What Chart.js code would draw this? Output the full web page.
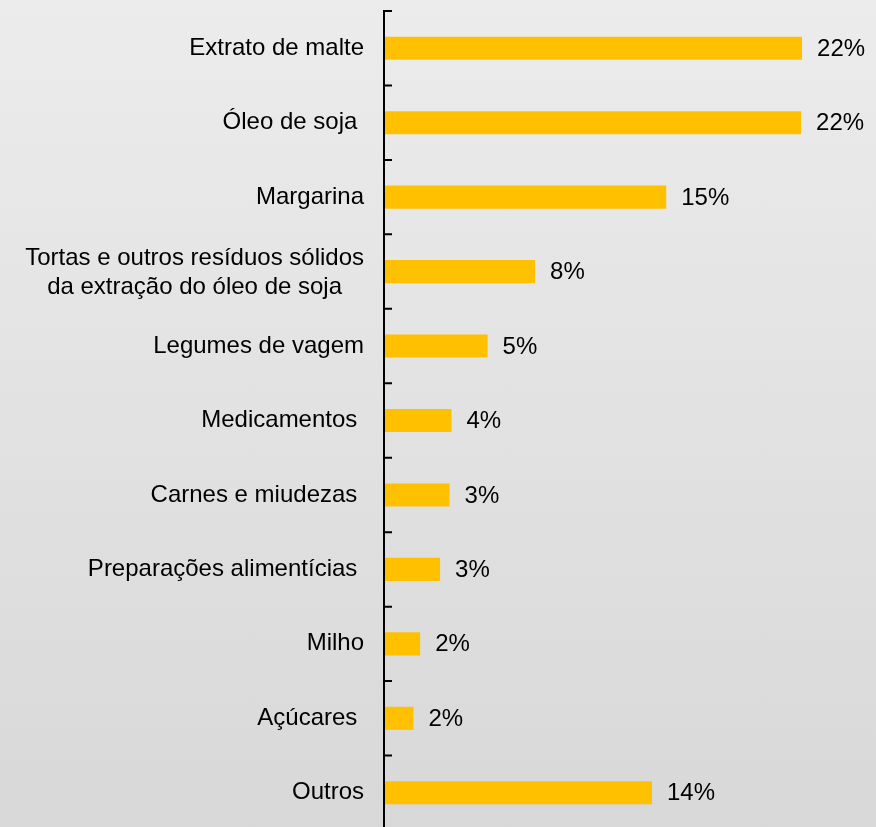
<!DOCTYPE html>
<html>
<head>
<meta charset="utf-8">
<script src="https://cdn.jsdelivr.net/npm/chart.js@4"></script>
<style>
  html, body { margin: 0; padding: 0; overflow: hidden; }
  #wrap {
    width: 876px; height: 827px; overflow: hidden;
    background: linear-gradient(to bottom, #ececec, #d8d8d8);
  }
  #box { width: 876px; height: 830px; }
</style>
</head>
<body>
<div id="wrap"><div id="box"><canvas id="myChart"></canvas></div></div>
<script>
// categories and shares (%)
var produtos = [
  "Extrato de malte",
  "Óleo de soja ",
  "Margarina",
  ["Tortas e outros resíduos sólidos", "da extração do óleo de soja"],
  "Legumes de vagem",
  "Medicamentos ",
  "Carnes e miudezas ",
  "Preparações alimentícias ",
  "Milho",
  "Açúcares ",
  "Outros"
];
var participacao = [21.95, 21.9, 14.8, 7.9, 5.4, 3.5, 3.4, 2.9, 1.85, 1.5, 14.05];

var fonte = "24px 'Liberation Sans', Arial, sans-serif";

// axis line, inward tick marks, category names and value labels
const desenho = {
  id: "desenho",
  afterDatasetsDraw(chart) {
    const ctx = chart.ctx;
    const area = chart.chartArea;
    const y = chart.scales.y;
    const n = produtos.length;
    const passo = (area.bottom - area.top) / n;
    const ax = area.left - 1;

    ctx.save();
    ctx.strokeStyle = "#000";
    ctx.lineWidth = 2;
    ctx.beginPath();
    ctx.moveTo(ax, area.top - 1);
    ctx.lineTo(ax, area.bottom + 5);
    for (let i = 0; i <= n; i++) {
      const ty = area.top + i * passo;
      ctx.moveTo(ax, ty);
      ctx.lineTo(ax + 8, ty);
    }
    ctx.stroke();

    ctx.font = fonte;
    ctx.fillStyle = "#000";
    ctx.textBaseline = "middle";

    // category names
    const direita = area.left - 21;
    produtos.forEach(function (p, i) {
      const cy = y.getPixelForValue(i);
      if (Array.isArray(p)) {
        // wrapped label: lines centred under the widest one
        let largura = 0;
        p.forEach(function (l) { largura = Math.max(largura, ctx.measureText(l).width); });
        ctx.textAlign = "center";
        const cx = direita - largura / 2;
        const h = 29;
        p.forEach(function (l, k) {
          ctx.fillText(l, cx, cy + 1 + (k - (p.length - 1) / 2) * h);
        });
      } else {
        ctx.textAlign = "right";
        ctx.fillText(p, direita, cy);
      }
    });

    // value labels
    ctx.textAlign = "left";
    const meta = chart.getDatasetMeta(0);
    meta.data.forEach(function (bar, i) {
      ctx.fillText(Math.round(participacao[i]) + "%", bar.x + 15, bar.y + 1);
    });
    ctx.restore();
  }
};

const chart = new Chart("myChart", {
  type: "bar",
  data: {
    labels: produtos,
    datasets: [{
      data: participacao,
      backgroundColor: "#FFC000",
      borderWidth: 0,
      barPercentage: 0.31,
      categoryPercentage: 1
    }]
  },
  options: {
    indexAxis: "y",
    responsive: true,
    maintainAspectRatio: false,
    animation: false,
    layout: { padding: { top: 11, right: 16, bottom: 0, left: 0 } },
    plugins: {
      legend: { display: false },
      tooltip: { enabled: false }
    },
    scales: {
      x: {
        display: false,
        min: 0,
        max: 25
      },
      y: {
        grid: { display: false },
        border: { display: false },
        ticks: { display: false },
        afterFit: function (scale) { scale.width = 385; }
      }
    }
  },
  plugins: [desenho]
});
</script>
</body>
</html>
